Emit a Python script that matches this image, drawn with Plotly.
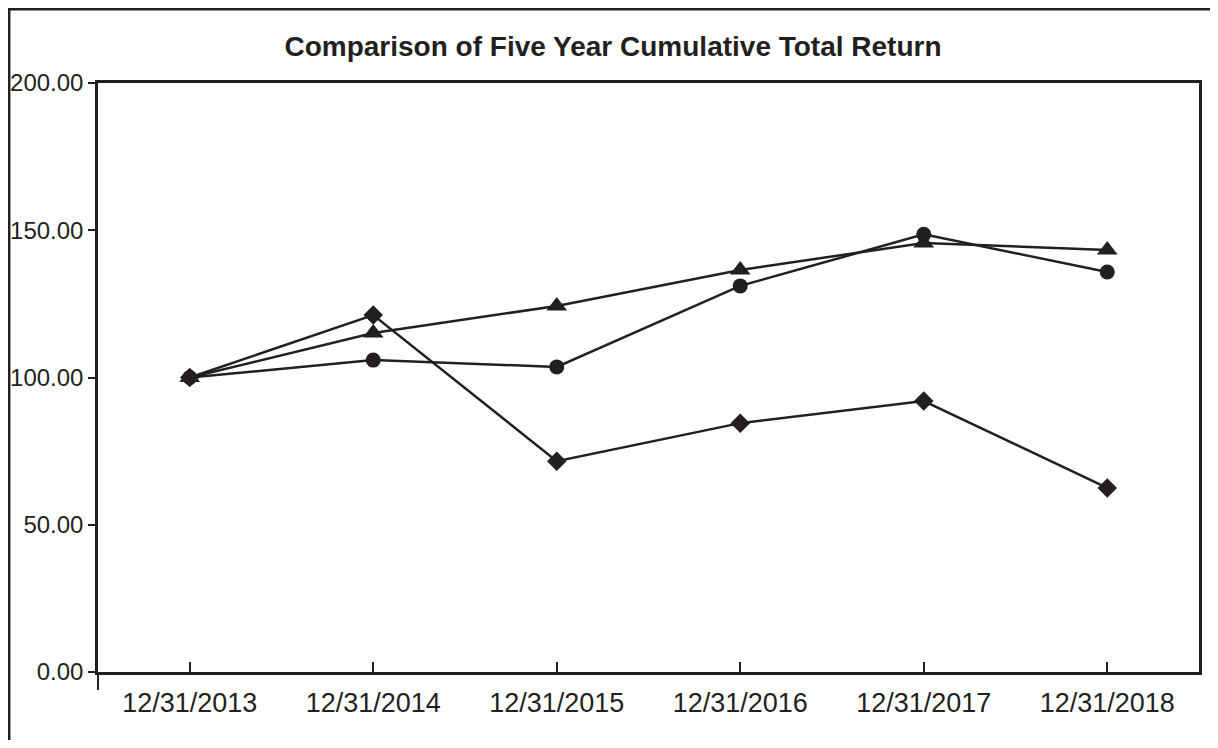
import plotly.graph_objects as go

categories = ["12/31/2013", "12/31/2014", "12/31/2015", "12/31/2016", "12/31/2017", "12/31/2018"]
diamond_series = [100.0, 121.2, 71.6, 84.5, 92.0, 62.5]
circle_series = [100.0, 105.9, 103.6, 131.1, 148.6, 135.8]
triangle_series = [100.0, 115.1, 124.3, 136.5, 145.7, 143.3]
y_ticks = [0, 50, 100, 150, 200]

INK = "#231f20"
FONT = "Liberation Sans, Arial, Helvetica, sans-serif"

fig = go.Figure()
for vals, sym, size in [(diamond_series, "diamond", 15),
                        (circle_series, "circle", 15),
                        (triangle_series, "triangle-up", 18)]:
    fig.add_trace(go.Scatter(
        x=categories, y=vals, mode="lines+markers",
        line=dict(color=INK, width=2.5),
        marker=dict(symbol=sym, size=size, color=INK, line=dict(width=0)),
        showlegend=False, cliponaxis=False,
    ))

# page has an 8px body margin, so figure coords = page coords - 8
OFF = 8
W, H = 1218 - 2 * OFF, 748 - 2 * OFF
ml, mt = 98 - OFF, 83 - OFF
mr = W - (1199 - OFF)
mb = H - (672 - OFF)
pw, ph = W - ml - mr, H - mt - mb

def px_x(x):
    return (x - OFF - ml) / pw

def px_y(y):
    return (H - mb - (y - OFF)) / ph

fig.update_layout(
    width=W, height=H,
    margin=dict(l=ml, r=mr, t=mt, b=mb, autoexpand=False),
    paper_bgcolor="white", plot_bgcolor="white",
    font=dict(family=FONT, color=INK),
    title=dict(text="<b>Comparison of Five Year Cumulative Total Return</b>",
               x=(613 - OFF) / W, xref="container", xanchor="center",
               y=1 - (46 - OFF) / H, yref="container", yanchor="middle",
               font=dict(size=28, family=FONT, color=INK)),
    xaxis=dict(type="category", range=[-0.5, 5.5], showgrid=False, zeroline=False,
               showline=True, linecolor=INK, linewidth=2.5, mirror=True,
               ticks="inside", ticklen=10, tickwidth=1.5, tickcolor=INK,
               ticklabelstandoff=5,
               tickfont=dict(size=27, family=FONT, color=INK)),
    yaxis=dict(range=[0, 200], tickvals=y_ticks, tickformat=".2f",
               showgrid=False, zeroline=False,
               showline=True, linecolor=INK, linewidth=2.5, mirror=True,
               ticks="outside", ticklen=7, tickwidth=1.5, tickcolor=INK,
               tickfont=dict(size=24, family=FONT, color=INK)),
    shapes=[
        dict(type="line", xref="paper", yref="paper",
             x0=px_x(9.2), x1=px_x(9.2), y0=px_y(760), y1=px_y(8),
             line=dict(color=INK, width=2.5)),
        dict(type="line", xref="paper", yref="paper",
             x0=px_x(8), x1=px_x(1230), y0=px_y(9.2), y1=px_y(9.2),
             line=dict(color=INK, width=2.5)),
        dict(type="line", xref="paper", yref="paper",
             x0=0, x1=0, y0=px_y(690), y1=0,
             line=dict(color=INK, width=2)),
    ],
)

fig.write_html("out.html")
